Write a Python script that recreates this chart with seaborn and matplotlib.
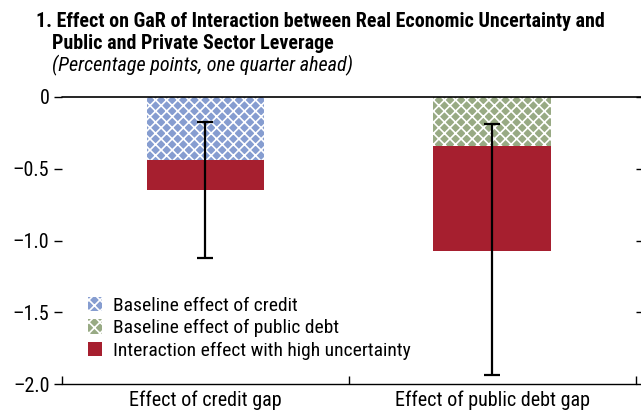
import numpy as np
import pandas as pd
import matplotlib
matplotlib.use("Agg")
import matplotlib.pyplot as plt
import matplotlib.patches as mpatches
import seaborn as sns

# ── Data ──────────────────────────────────────────────────────────────────────
categories  = ["Effect of credit gap", "Effect of public debt gap"]
baseline    = [-0.44, -0.34]
interaction = [-0.21, -0.73]
err_low     = [-1.125, -1.94]
err_high    = [-0.175, -0.19]
y_ticks     = [0, -0.5, -1.0, -1.5, -2.0]
y_labels    = ["0", "\u20130.5", "\u20131.0", "\u20131.5", "\u20132.0"]

BLUE  = "#869dd0"
GREEN = "#98aa84"
RED   = "#a61f2f"

sns.set_style("white")
plt.rcParams["font.family"] = ["Roboto Condensed", "DejaVu Sans"]
plt.rcParams["hatch.linewidth"] = 1.2
plt.rcParams["text.color"] = "black"
plt.rcParams["xtick.color"] = "black"
plt.rcParams["ytick.color"] = "black"

df = pd.DataFrame({"cat": categories,
                   "base": baseline,
                   "total": np.array(baseline) + np.array(interaction)})

fig = plt.figure(figsize=(6.41, 4.19), dpi=100)
ax = fig.add_axes([0.0967, 0.0835, 0.895, 0.685])

sns.barplot(data=df, x="cat", y="total", color=RED, width=0.41,
            saturation=1, ax=ax, linewidth=0)
n_red = len(ax.patches)
sns.barplot(data=df, x="cat", y="base", hue="cat", palette=[BLUE, GREEN],
            width=0.41, saturation=1, legend=False, ax=ax, linewidth=0)
for p in ax.patches[n_red:]:
    p.set_hatch("xxx")
    p.set_edgecolor("white")
    p.set_linewidth(0)

centers = (np.array(err_low) + np.array(err_high)) / 2
yerr = (np.array(err_high) - np.array(err_low)) / 2
ax.errorbar(np.arange(len(categories)), centers, yerr=yerr, fmt="none",
            ecolor="black", elinewidth=1.6, capsize=5.5, capthick=1.6)

ax.set_ylim(-2.0, 0)
ax.set_xlim(-0.5, 1.5)
ax.set_yticks(y_ticks)
ax.set_yticklabels(y_labels, fontsize=14.5)
ax.set_xticks(range(len(categories)))
ax.set_xticklabels(categories, fontsize=14.5)
ax.set_xlabel("")
ax.set_ylabel("")
ax.set_xticks([-0.5, 0.5, 1.5], minor=True)
ax.tick_params(axis="x", which="major", length=0, pad=5)
ax.tick_params(axis="x", which="minor", direction="in", length=6,
               width=1, color="black", bottom=True)
ax.tick_params(axis="y", which="major", direction="out", length=6,
               width=1, color="black", left=True, right=True,
               labelright=False, pad=3)

for s in ["top", "left", "right"]:
    ax.spines[s].set_visible(False)
ax.spines["bottom"].set_color("black")
ax.spines["bottom"].set_linewidth(1)
ax.axhline(0, xmin=0, xmax=1.01, color="black", linewidth=1.2, clip_on=False)

handles = [
    mpatches.Patch(facecolor=BLUE, edgecolor="white", hatch="xxx",
                   linewidth=0, label="Baseline effect of credit"),
    mpatches.Patch(facecolor=GREEN, edgecolor="white", hatch="xxx",
                   linewidth=0, label="Baseline effect of public debt"),
    mpatches.Patch(facecolor=RED, linewidth=0,
                   label="Interaction effect with high uncertainty"),
]
ax.legend(handles=handles, loc="lower left", bbox_to_anchor=(0.045, 0.085),
          frameon=False, fontsize=14, handlelength=0.75, handleheight=0.75,
          handletextpad=0.55, labelspacing=0.22, borderaxespad=0, borderpad=0)

fig.text(0.056, 0.9356, "1. Effect on GaR of Interaction between Real Economic Uncertainty and",
         fontsize=14.4, fontweight="bold", va="baseline")
fig.text(0.081, 0.883, "Public and Private Sector Leverage",
         fontsize=14.4, fontweight="bold", va="baseline")
fig.text(0.081, 0.8305, "(Percentage points, one quarter ahead)",
         fontsize=14.5, style="italic", va="baseline")

fig.savefig("out.png", dpi=100)
